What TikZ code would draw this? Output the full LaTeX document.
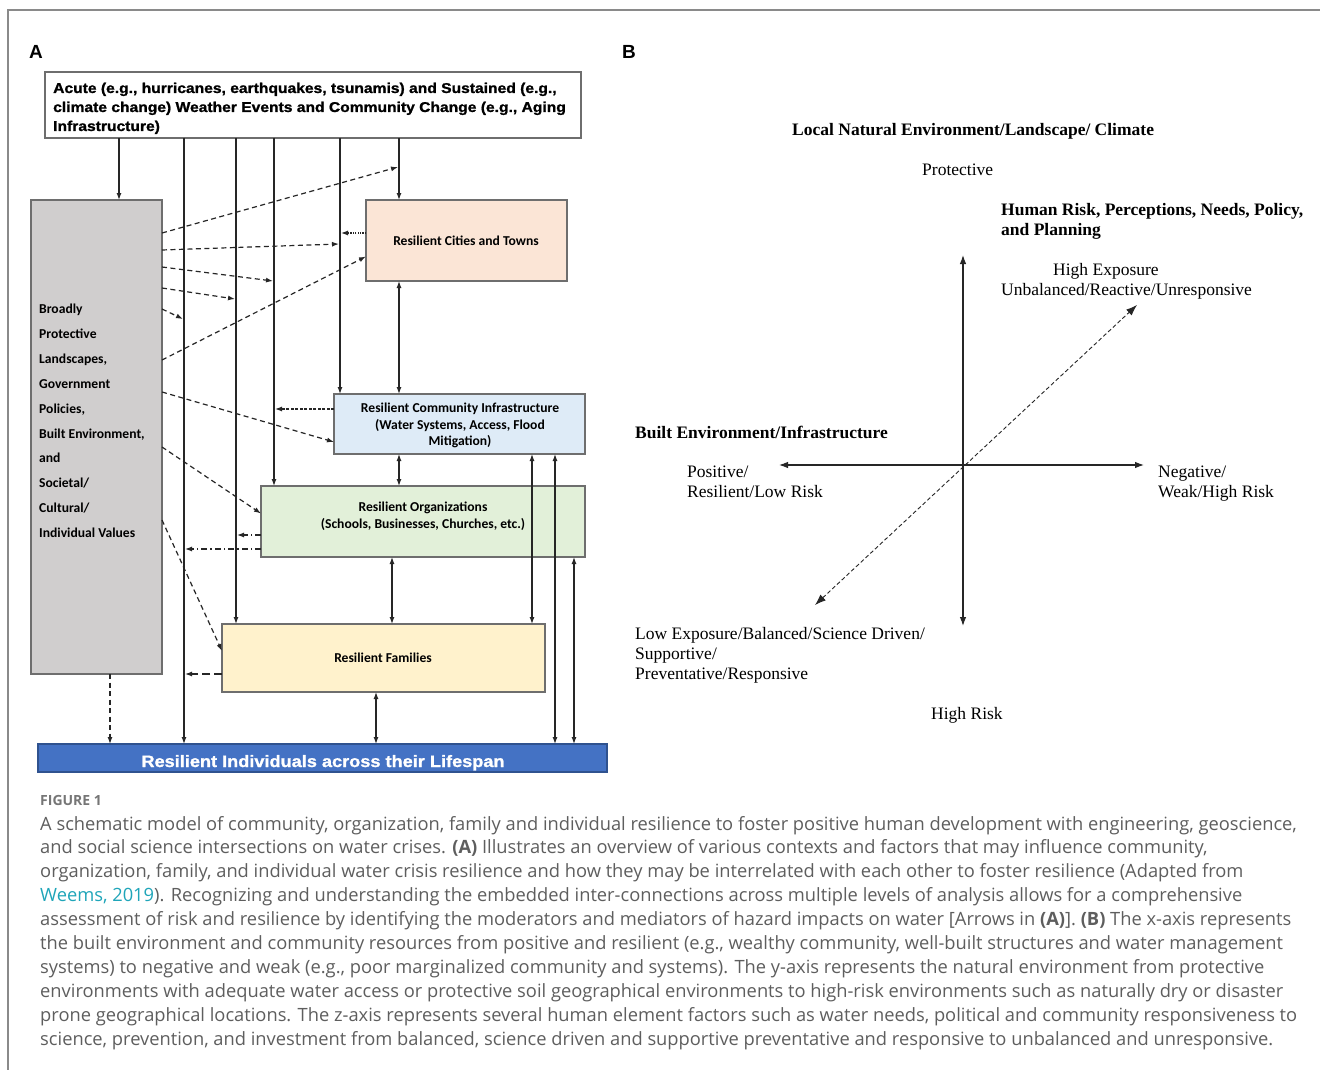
\documentclass[tikz,border=0pt]{standalone}
\usepackage{fontspec}
\setmainfont{Liberation Serif}
\newfontfamily\arialf{Liberation Sans}
\newfontfamily\heavyf[FakeStretch=1.1,FakeBold=1.2]{Liberation Sans}
\newfontfamily\calf{Carlito}
\newfontfamily\timesf{Liberation Serif}
\newfontfamily\capf{Open Sans}
\usetikzlibrary{arrows.meta}
\definecolor{boxgray}{HTML}{6E6E6E}
\definecolor{linec}{HTML}{262626}
\definecolor{greyfill}{HTML}{D0CECE}
\definecolor{cityfill}{HTML}{FBE5D6}
\definecolor{infrafill}{HTML}{DEEBF7}
\definecolor{orgfill}{HTML}{E2F0D9}
\definecolor{famfill}{HTML}{FFF2CC}
\definecolor{bluefill}{HTML}{4472C4}
\definecolor{blueedge}{HTML}{2F528F}
\definecolor{capc}{HTML}{5E5E5E}
\definecolor{linkc}{HTML}{1FA5B9}
\definecolor{framec}{HTML}{8A8A8A}
\begin{document}
\begin{tikzpicture}[x=1pt,y=-1pt,
  box/.style={draw=boxgray, line width=1.3pt, inner sep=0pt, outer sep=0pt, anchor=north west},
  ln/.style={line width=1.2pt, draw=linec},
  arr/.style={ln, -{Latex[length=7pt,width=5pt]}},
  darr/.style={ln, {Latex[length=7pt,width=5pt]}-{Latex[length=7pt,width=5pt]}},
  dasharr/.style={arr, dash pattern=on 5pt off 3.5pt},
  dotarr/.style={arr, dash pattern=on 1.2pt off 1.2pt},
  ddarr/.style={arr, dash pattern=on 6pt off 3pt on 1.5pt off 3pt},
  lab/.style={inner sep=0pt, font=\arialf\bfseries\fontsize{19}{22}\selectfont},
  toptext/.style={inner sep=0pt, anchor=base west, font=\heavyf\bfseries\fontsize{14.2}{16}\selectfont},
  btext/.style={inner sep=0pt, anchor=base, font=\calf\bfseries\fontsize{13.6}{15}\selectfont},
  gtext/.style={inner sep=0pt, anchor=base west, font=\calf\bfseries\fontsize{13.6}{15}\selectfont},
  ttext/.style={inner sep=0pt, anchor=base west, font=\timesf\fontsize{17.5}{20}\selectfont},
  tbold/.style={ttext, font=\timesf\bfseries\fontsize{17.5}{20}\selectfont},
  axd/.style={line width=1.1pt, draw=linec, {Latex[length=9pt,width=6.5pt]}-{Latex[length=9pt,width=6.5pt]}},
  zd/.style={line width=0.9pt, draw=linec, dash pattern=on 4pt off 2.5pt, {Latex[length=11pt,width=8pt]}-{Latex[length=11pt,width=8pt]}},
  captxt/.style={inner sep=0pt, anchor=base west, text=capc, font=\capf\fontsize{18.3}{20}\selectfont}
]
\useasboundingbox[fill=white] (0,0) rectangle (1320,1070);
\draw[framec, line width=1.5pt] (8,1070) -- (8,10) -- (1320,10);

% ---------------- Panel A ----------------
\node[lab, anchor=base west] (labA) at (29,59) {A};
\node[lab, anchor=base west] (labB) at (622,59) {B};

\node[box, fill=white, minimum width=536pt, minimum height=66pt] (top) at (45,72) {};
\node[toptext] (t1) at (53,93) {Acute (e.g., hurricanes, earthquakes, tsunamis) and Sustained (e.g.,};
\node[toptext] (t2) at (53,112) {climate change) Weather Events and Community Change (e.g., Aging};
\node[toptext] (t3) at (53,131) {Infrastructure)};

\node[box, fill=greyfill, minimum width=131pt, minimum height=474pt] (grey) at (31,200) {};
\node[box, fill=cityfill, minimum width=201pt, minimum height=81pt] (cities) at (366,200) {};
\node[box, fill=infrafill, minimum width=251pt, minimum height=60pt] (infra) at (334,394) {};
\node[box, fill=orgfill, minimum width=324pt, minimum height=71pt] (orgs) at (261,486) {};
\node[box, fill=famfill, minimum width=323pt, minimum height=68pt] (fam) at (222,624) {};
\node[box, draw=blueedge, fill=bluefill, minimum width=569pt, minimum height=28pt] (blue) at (38,744) {};

\foreach \t [count=\i] in {Broadly,Protective,{Landscapes,},Government,{Policies,},{Built Environment,},and,Societal/,Cultural/,Individual Values}
  \node[gtext] (g\i) at (39,{313.5+(\i-1)*24.9}) {\t};

% columns
\coordinate (c0) at (110,0);
\coordinate (c1) at (119,0);
\coordinate (c2) at (184,0);
\coordinate (c3) at (236,0);
\coordinate (c4) at (274,0);
\coordinate (c5) at (340,0);
\coordinate (c6) at (399,0);
\coordinate (c7) at (392,0);
\coordinate (c8) at (376,0);
\coordinate (c9) at (532,0);
\coordinate (c10) at (555,0);
\coordinate (c11) at (574,0);

\draw[arr] (top.south -| c1) -- (grey.north -| c1);
\draw[arr] (top.south -| c2) -- (blue.north -| c2);
\draw[arr] (top.south -| c3) -- (fam.north -| c3);
\draw[arr] (top.south -| c4) -- (orgs.north -| c4);
\draw[arr] (top.south -| c5) -- (infra.north -| c5);
\draw[arr] (top.south -| c6) -- (cities.north -| c6);
\draw[darr] (cities.south -| c6) -- (infra.north -| c6);
\draw[darr] (infra.south -| c6) -- (orgs.north -| c6);
\draw[darr] (orgs.south -| c7) -- (fam.north -| c7);
\draw[darr] (fam.south -| c8) -- (blue.north -| c8);
\draw[darr] (infra.south -| c9) -- (fam.north -| c9);
\draw[darr] (infra.south -| c10) -- (blue.north -| c10);
\draw[darr] (orgs.south -| c11) -- (blue.north -| c11);
\draw[dasharr] (grey.south -| c0) -- (blue.north -| c0);

% dashed from grey box
\coordinate (d1) at (398,167);
\coordinate (d2) at (339,244);
\coordinate (d3) at (273,281);
\coordinate (d4) at (235,299);
\coordinate (d5) at (183,319);
\draw[dasharr] ([yshift=-33pt]grey.north east) -- (d1);
\draw[dasharr] ([yshift=-50pt]grey.north east) -- (d2);
\draw[dasharr] ([yshift=-67pt]grey.north east) -- (d3);
\draw[dasharr] ([yshift=-88pt]grey.north east) -- (d4);
\draw[dasharr] ([yshift=-109pt]grey.north east) -- (d5);
\draw[dasharr] ([yshift=-160pt]grey.north east) -- ([yshift=-16pt]cities.west);
\draw[dasharr] ([yshift=-192pt]grey.north east) -- ([yshift=-18pt]infra.west);
\draw[dasharr] ([yshift=-247pt]grey.north east) -- ([yshift=8pt]orgs.west);
\draw[dasharr] ([yshift=-320pt]grey.north east) -- ([yshift=7pt]fam.west);

% back arrows
\coordinate (d6) at (341,233);
\coordinate (d7) at (275,409);
\coordinate (d8) at (237,535);
\coordinate (d9) at (185,549);
\coordinate (d10) at (185,674);
\draw[dotarr] ([yshift=7.5pt]cities.west) -- (d6);
\draw[dasharr, dash pattern=on 3pt off 1.5pt] ([yshift=15pt]infra.west) -- (d7);
\draw[ddarr] ([yshift=-13.5pt]orgs.west) -- (d8);
\draw[ddarr] ([yshift=-27.5pt]orgs.west) -- (d9);
\draw[dasharr, dash pattern=on 8pt off 4pt] ([yshift=-16pt]fam.west) -- (d10);

% box texts
\node[btext] (citiesT) at (466,245.5) {Resilient Cities and Towns};
\node[btext] (infraT1) at (460,412.5) {Resilient Community Infrastructure};
\node[btext] (infraT2) at (460,429) {(Water Systems, Access, Flood};
\node[btext] (infraT3) at (460,445.5) {Mitigation)};
\node[btext] (orgsT1) at (423,511.5) {Resilient Organizations};
\node[btext] (orgsT2) at (423,528.5) {(Schools, Businesses, Churches, etc.)};
\node[btext] (famT) at (383,662.5) {Resilient Families};
\node[inner sep=0pt, anchor=base, text=white, font=\heavyf\bfseries\fontsize{16.5}{18}\selectfont] (blueT) at (323,767) {Resilient Individuals across their Lifespan};

% ---------------- Panel B ----------------
\coordinate (yt) at (963,255);
\coordinate (yb) at (963,626);
\coordinate (xl) at (779,465);
\coordinate (xr) at (1144,465);
\coordinate (zt) at (1137,305);
\coordinate (zb) at (815,605);
\draw[axd] (yt) -- (yb);
\draw[axd] (xl) -- (xr);
\draw[zd] (zb) -- (zt);

\node[tbold] (lnat) at (792,135.5) {Local Natural Environment/Landscape/ Climate};
\node[ttext] (prot) at (922,175.5) {Protective};
\node[tbold] (hum1) at (1001,215.5) {Human Risk, Perceptions, Needs, Policy,};
\node[tbold] (hum2) at (1001,235.5) {and Planning};
\node[ttext] (hexp) at (1053,275.5) {High Exposure};
\node[ttext] (unb) at (1001,295.5) {Unbalanced/Reactive/Unresponsive};
\node[tbold] (built) at (635,438.5) {Built Environment/Infrastructure};
\node[ttext] (pos1) at (687,477.5) {Positive/};
\node[ttext] (pos2) at (687,497.5) {Resilient/Low Risk};
\node[ttext] (neg1) at (1158,477.5) {Negative/};
\node[ttext] (neg2) at (1158,497.5) {Weak/High Risk};
\node[ttext] (low1) at (635,639.5) {Low Exposure/Balanced/Science Driven/};
\node[ttext] (low2) at (635,659.5) {Supportive/};
\node[ttext] (low3) at (635,679.5) {Preventative/Responsive};
\node[ttext] (hrisk) at (931,719.5) {High Risk};

% ---------------- Caption ----------------
\node[captxt, font=\capf\bfseries\fontsize{14}{16}\selectfont, text=capc!85] (fig) at (40,805) {FIGURE 1};
\node[captxt] (l1) at (40,830) {A schematic model of community, organization, family and individual resilience to foster positive human development with engineering, geoscience,};
\node[captxt] (l2) at (40,853.9) {and social science intersections on water crises. \textbf{(A)} Illustrates an overview of various contexts and factors that may influence community,};
\node[captxt] (l3) at (40,877.8) {organization, family, and individual water crisis resilience and how they may be interrelated with each other to foster resilience (Adapted from};
\node[captxt] (l4) at (40,901.7) {\textcolor{linkc}{Weems, 2019}). Recognizing and understanding the embedded inter-connections across multiple levels of analysis allows for a comprehensive};
\node[captxt] (l5) at (40,925.6) {assessment of risk and resilience by identifying the moderators and mediators of hazard impacts on water [Arrows in \textbf{(A)}]. \textbf{(B)} The x-axis represents};
\node[captxt] (l6) at (40,949.5) {the built environment and community resources from positive and resilient (e.g., wealthy community, well-built structures and water management};
\node[captxt] (l7) at (40,973.4) {systems) to negative and weak (e.g., poor marginalized community and systems). The y-axis represents the natural environment from protective};
\node[captxt] (l8) at (40,997.3) {environments with adequate water access or protective soil geographical environments to high-risk environments such as naturally dry or disaster};
\node[captxt] (l9) at (40,1021.2) {prone geographical locations. The z-axis represents several human element factors such as water needs, political and community responsiveness to};
\node[captxt] (l10) at (40,1045.1) {science, prevention, and investment from balanced, science driven and supportive preventative and responsive to unbalanced and unresponsive.};
\end{tikzpicture}
\end{document}
